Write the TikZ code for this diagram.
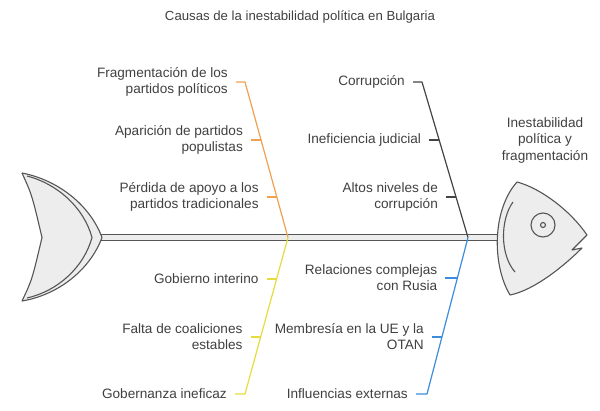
\documentclass[tikz,border=0pt]{standalone}
\usepackage{fontspec}
\setmainfont{Liberation Sans}
\usepackage{xcolor}
\usetikzlibrary{positioning,calc}

\definecolor{textgray}{HTML}{404040}
\definecolor{linegray}{HTML}{555555}
\definecolor{fishgray}{HTML}{EDEDED}
\definecolor{boneorange}{HTML}{F0A050}
\definecolor{bonedark}{HTML}{444444}
\definecolor{boneyellow}{HTML}{E6DC3C}
\definecolor{boneblue}{HTML}{3C8CDC}

\begin{document}
\begin{tikzpicture}[x=1pt, y=-1pt,
    cause/.style={align=right, inner sep=0pt, text=textgray, font=\fontsize{13.6}{16}\selectfont},
    fish/.style={draw=linegray, line width=1.1pt, line join=round},
    bone/.style={line width=1.2pt, line join=round}]
    \useasboundingbox (0,0) rectangle (600,410);

    \node [text=textgray, font=\fontsize{13.2}{15}\selectfont] (Title) at (300,17) {Causas de la inestabilidad política en Bulgaria};

    % spine
    \coordinate (TailTip) at (102,237.5);
    \coordinate (HeadBack) at (502,237.5);
    \draw [fish, fill=fishgray] ($(TailTip)+(-2,-3)$) rectangle ($(HeadBack)+(0,3)$);

    % tail
    \draw [fish, fill=fishgray] (22,173) .. controls (58,180) and (90,205) .. (TailTip)
        .. controls (90,270) and (58,295) .. (22,301)
        .. controls (32,280) .. (42,237.5) .. controls (32,195) .. cycle;
    \draw [fish] (27,176) .. controls (58,184) and (84,208) .. (92,237.5)
        .. controls (84,267) and (58,291) .. (27,298);

    % head
    \draw [fish, fill=fishgray] (517,182) .. controls (540,188) and (570,210) .. (587,235)
        -- (572,250) -- (582,248)
        .. controls (565,265) and (535,290) .. (510,295)
        .. controls (492,265) and (492,210) .. cycle;
    \draw [fish] (513,202) .. controls (500,220) and (500,255) .. (515,272);
    \node [fish, circle, minimum size=24pt, inner sep=0pt] (Eye) at (543,225) {};
    \node [fish, circle, minimum size=5pt, inner sep=0pt] at (Eye) {};
    \node [text=textgray, align=center, font=\fontsize{13.6}{16.5}\selectfont] (Effect) at (545,140) {Inestabilidad\\política y\\fragmentación};

    % orange bone
    \coordinate (OTop) at (245,82);
    \coordinate (OJoin) at (288,237.5);
    \draw [bone, boneorange] (OJoin) -- (OTop) -- ++(-9,0) coordinate (OTopT);
    \draw [bone, boneorange] ($(OTop)!0.373!(OJoin)$) -- ++(-10,0) coordinate (OMidT);
    \draw [bone, boneorange] ($(OTop)!0.74!(OJoin)$) -- ++(-10,0) coordinate (OLowT);
    \node [cause, left=8pt of OTopT] (Fragmentacion) {Fragmentación de los\\partidos políticos};
    \node [cause, left=8pt of OMidT] (Aparicion) {Aparición de partidos\\populistas};
    \node [cause, left=8pt of OLowT] (Perdida) {Pérdida de apoyo a los\\partidos tradicionales};

    % dark bone
    \coordinate (DTop) at (422,82);
    \coordinate (DJoin) at (468,237.5);
    \draw [bone, bonedark] (DJoin) -- (DTop) -- ++(-9,0) coordinate (DTopT);
    \draw [bone, bonedark] ($(DTop)!0.373!(DJoin)$) -- ++(-10,0) coordinate (DMidT);
    \draw [bone, bonedark] ($(DTop)!0.74!(DJoin)$) -- ++(-10,0) coordinate (DLowT);
    \node [cause, left=8pt of DTopT] (Corrupcion) {Corrupción};
    \node [cause, left=8pt of DMidT] (Ineficiencia) {Ineficiencia judicial};
    \node [cause, left=8pt of DLowT] (Altos) {Altos niveles de\\corrupción};

    % yellow bone
    \coordinate (YJoin) at (288,237.5);
    \coordinate (YBot) at (245,394);
    \draw [bone, boneyellow] (YJoin) -- (YBot) -- ++(-10,0) coordinate (YBotT);
    \draw [bone, boneyellow] ($(YJoin)!0.265!(YBot)$) -- ++(-10,0) coordinate (YTopT);
    \draw [bone, boneyellow] ($(YJoin)!0.636!(YBot)$) -- ++(-10,0) coordinate (YMidT);
    \node [cause, left=8pt of YTopT] (Gobierno) {Gobierno interino};
    \node [cause, left=8pt of YMidT] (Falta) {Falta de coaliciones\\estables};
    \node [cause, left=8pt of YBotT] (Gobernanza) {Gobernanza ineficaz};

    % blue bone
    \coordinate (BJoin) at (468,237.5);
    \coordinate (BBot) at (427,394);
    \draw [bone, boneblue] (BJoin) -- (BBot) -- ++(-11,0) coordinate (BBotT);
    \draw [bone, boneblue] ($(BJoin)!0.259!(BBot)$) -- ++(-12,0) coordinate (BTopT);
    \draw [bone, boneblue] ($(BJoin)!0.636!(BBot)$) -- ++(-10,0) coordinate (BMidT);
    \node [cause, left=8pt of BTopT] (Relaciones) {Relaciones complejas\\con Rusia};
    \node [cause, left=8pt of BMidT] (Membresia) {Membresía en la UE y la\\OTAN};
    \node [cause, left=8pt of BBotT] (Influencias) {Influencias externas};
\end{tikzpicture}
\end{document}
